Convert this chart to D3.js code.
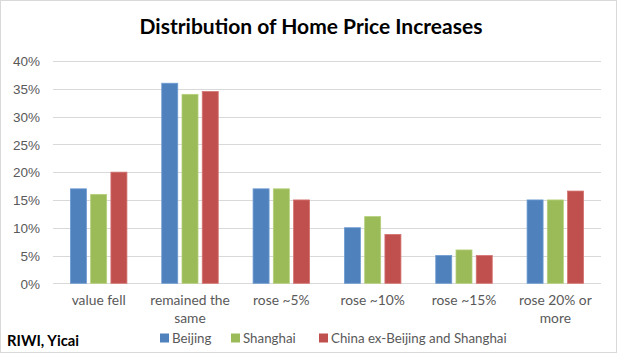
<!DOCTYPE html>
<html><head><meta charset="utf-8">
<script src="https://cdn.jsdelivr.net/npm/d3@7"></script>
<style>body{margin:0;background:#fff;} svg{display:block;font-family:Lato,"Open Sans",sans-serif;}</style>
</head><body>
<svg id="c" width="621" height="355"></svg>
<script>
const categories = [["value fell"],["remained the","same"],["rose ~5%"],["rose ~10%"],["rose ~15%"],["rose 20% or","more"]];
const seriesNames = ["Beijing","Shanghai","China ex-Beijing and Shanghai"];
const beijing  = [17, 36, 17, 10, 5, 15];
const shanghai = [16, 34, 17, 12, 6, 15];
const chinaEx  = [20, 34.5, 15, 8.8, 5, 16.6];
const yTicks = [0,5,10,15,20,25,30,35,40];
const colors = ["#4F81BD","#9BBB59","#C0504D"];
const strokes = ["#6d9bd1","#b5d07a","#d47371"];

const series = [beijing, shanghai, chinaEx];
const svg = d3.select("#c");
svg.append("rect").attr("x",0.5).attr("y",0.5).attr("width",616).attr("height",352)
  .attr("fill","#fff").attr("stroke","#d9d9d9");

const x0 = d3.scaleBand().domain(d3.range(categories.length)).range([53,601]).paddingInner(0).paddingOuter(0);
const x1 = d3.scaleBand().domain(d3.range(3)).range([0,56.5]).paddingInner(0.21);
const y = d3.scaleLinear().domain([0,40]).range([283.3,61]);

// gridlines
svg.append("g").selectAll("line").data(yTicks).join("line")
  .attr("x1",53).attr("x2",601).attr("y1",d=>Math.round(y(d))+0.5).attr("y2",d=>Math.round(y(d))+0.5)
  .attr("stroke","#d9d9d9").attr("stroke-width",1);

// y axis
const yAxis = d3.axisLeft(y).tickValues(yTicks).tickFormat(d=>d+"%").tickSize(0).tickPadding(0);
const ya = svg.append("g").attr("transform","translate(40,0)").call(yAxis);
ya.select(".domain").remove();
ya.selectAll("text").attr("font-size",13.5).attr("fill","#595959").attr("dy","0.35em");

// bars
categories.forEach((c,i)=>{
  const off = x0(i) + (x0.bandwidth()-56.5)/2;
  svg.append("g").selectAll("rect").data(series.map((s,k)=>({k,v:s[i]}))).join("rect")
    .attr("x",d=>off+x1(d.k)).attr("width",x1.bandwidth())
    .attr("y",d=>y(d.v)).attr("height",d=>y(0)-y(d.v))
    .attr("fill",d=>colors[d.k]).attr("stroke",d=>strokes[d.k]).attr("stroke-width",0.8);
});

// x labels
const xl = svg.append("g");
categories.forEach((c,i)=>{
  const t = xl.append("text").attr("x",x0(i)+x0.bandwidth()/2).attr("y",305)
    .attr("text-anchor","middle").attr("font-size",13.8).attr("fill","#595959");
  c.forEach((line,j)=>t.append("tspan").attr("x",x0(i)+x0.bandwidth()/2).attr("dy",j?18:0).text(line));
});

// title
svg.append("text").attr("x",311).attr("y",34).attr("text-anchor","middle")
  .attr("font-size",21).attr("font-weight","bold").attr("fill","#000").text("Distribution of Home Price Increases");

// source
svg.append("text").attr("x",7).attr("y",346).attr("font-size",14.8).attr("font-weight","bold").attr("fill","#000").text("RIWI, Yicai");

// legend
const legX = [160,231,319];
const lg = svg.append("g");
seriesNames.forEach((n,k)=>{
  lg.append("rect").attr("x",legX[k]).attr("y",333.5).attr("width",9).attr("height",9).attr("fill",colors[k]);
  lg.append("text").attr("x",legX[k]+12).attr("y",343).attr("font-size",13.3).attr("fill","#595959").text(n);
});
</script>
</body></html>
